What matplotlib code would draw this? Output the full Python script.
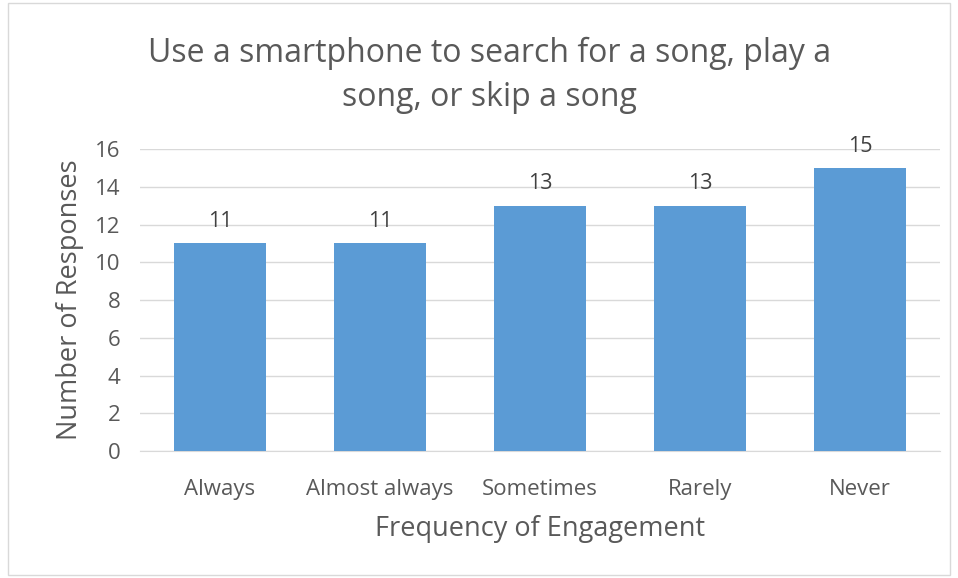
import matplotlib.pyplot as plt
from matplotlib.patches import Rectangle

plt.switch_backend('agg')

categories = ['Always', 'Almost always', 'Sometimes', 'Rarely', 'Never']
responses = [11, 11, 13, 13, 15]
y_ticks = [0, 2, 4, 6, 8, 10, 12, 14, 16]

TEXT = '#595959'
BAR = '#5B9BD5'
GRID = '#D9D9D9'

plt.rcParams['font.family'] = ['Open Sans', 'DejaVu Sans']

fig = plt.figure(figsize=(9.58, 5.78), dpi=100)
ax = fig.add_axes([0.146, 0.2197, 0.835, 0.5225])

x = range(len(categories))
bars = ax.bar(x, responses, width=0.575, color=BAR, zorder=3)
for b, v in zip(bars, responses):
    ax.text(b.get_x() + b.get_width() / 2, v + 0.6, str(v), ha='center', va='bottom',
            fontsize=15.5, color='#404040')

ax.set_xlim(-0.5, len(categories) - 0.5)
ax.set_ylim(0, 16)
ax.set_yticks(y_ticks)
ax.set_xticks(list(x))
ax.set_xticklabels(categories)
ax.tick_params(axis='both', length=0, labelsize=16, labelcolor=TEXT)
ax.tick_params(axis='x', pad=20)
ax.tick_params(axis='y', pad=14)
ax.grid(axis='y', color=GRID, linewidth=1, zorder=0)
for s in ['top', 'right', 'left']:
    ax.spines[s].set_visible(False)
ax.spines['bottom'].set_color(GRID)

ax.set_xlabel('Frequency of Engagement', fontsize=19.5, color=TEXT, labelpad=11)
ax.set_ylabel('Number of Responses', fontsize=19.5, color=TEXT, labelpad=8)

fig.text(0.511, 0.869, 'Use a smartphone to search for a song, play a\nsong, or skip a song',
         ha='center', va='center', fontsize=23, color=TEXT, linespacing=1.45)

fig.patches.append(Rectangle((0.008, 0.005), 0.984, 0.99, transform=fig.transFigure,
                             fill=False, edgecolor=GRID, linewidth=1))

fig.savefig('out.png', dpi=100)
